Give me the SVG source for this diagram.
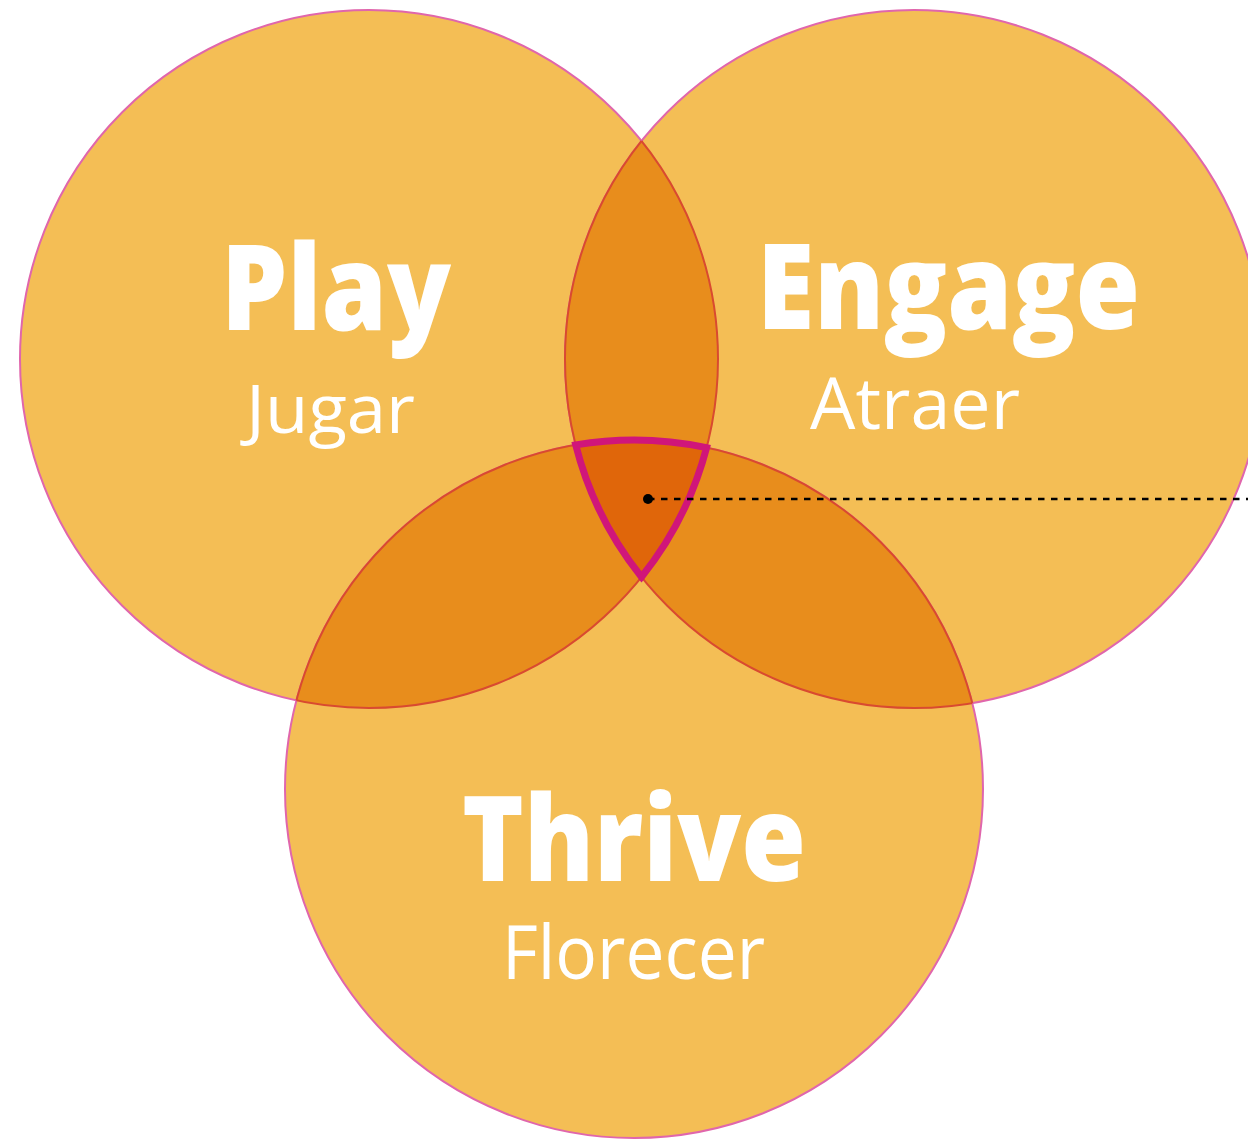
<svg xmlns="http://www.w3.org/2000/svg" width="1248" height="1139" viewBox="0 0 1248 1139">
<style>
.fill{fill:#F4BE55;stroke:#E066AC;stroke-width:2}
.ov{fill:#E88D1C}
.inner{fill:none;stroke:#D94A30;stroke-width:2}
.title{font-family:"Open Sans","Noto Sans",sans-serif;font-weight:800;fill:#FFFFFF}
.sub{font-family:"Open Sans","Noto Sans",sans-serif;font-weight:400;fill:#FFFFFF}
</style>
<defs>
<clipPath id="k1"><circle cx="369" cy="359" r="349"/></clipPath>
<clipPath id="k2"><circle cx="914" cy="359" r="349"/></clipPath>
<clipPath id="k23"><circle cx="914" cy="359" r="349"/><circle cx="634" cy="789" r="349"/></clipPath>
<clipPath id="k13"><circle cx="369" cy="359" r="349"/><circle cx="634" cy="789" r="349"/></clipPath>
<clipPath id="k12"><circle cx="369" cy="359" r="349"/><circle cx="914" cy="359" r="349"/></clipPath>
</defs>
<rect width="1248" height="1139" fill="#FFFFFF"/>
<g id="play">
<circle class="fill" cx="369" cy="359" r="349"/>
</g>
<g id="engage">
<circle class="fill" cx="914" cy="359" r="349"/>
</g>
<g id="thrive">
<circle class="fill" cx="634" cy="789" r="349"/>
</g>
<g id="overlaps">
<circle class="ov" cx="914" cy="359" r="349" clip-path="url(#k1)"/>
<circle class="ov" cx="634" cy="789" r="349" clip-path="url(#k1)"/>
<circle class="ov" cx="634" cy="789" r="349" clip-path="url(#k2)"/>
<circle class="inner" cx="369" cy="359" r="349" clip-path="url(#k23)"/>
<circle class="inner" cx="914" cy="359" r="349" clip-path="url(#k13)"/>
<circle class="inner" cx="634" cy="789" r="349" clip-path="url(#k12)"/>
</g>
<g id="center">
<path d="M575.7 444.9 A349 349 0 0 1 706.6 447.6 A349 349 0 0 1 641.5 577 A349 349 0 0 1 575.7 444.9 Z" fill="#E0660A" stroke="#D0167A" stroke-width="7" stroke-linejoin="miter" stroke-miterlimit="10"/>
</g>
<g id="labels">
<text class="title" x="221" y="330" font-size="119" textLength="230" lengthAdjust="spacingAndGlyphs">Play</text>
<text class="sub" x="246" y="433" font-size="68" textLength="169" lengthAdjust="spacingAndGlyphs">Jugar</text>
<text class="title" x="757" y="329" font-size="119" textLength="383" lengthAdjust="spacingAndGlyphs">Engage</text>
<text class="sub" x="810" y="429" font-size="71" textLength="210" lengthAdjust="spacingAndGlyphs">Atraer</text>
<text class="title" x="462" y="881" font-size="119" textLength="344" lengthAdjust="spacingAndGlyphs">Thrive</text>
<text class="sub" x="502" y="979" font-size="75" textLength="263" lengthAdjust="spacingAndGlyphs">Florecer</text>
</g>
<g id="connectors">
<line x1="648" y1="499" x2="1248" y2="499" stroke="#000000" stroke-width="2.5" stroke-dasharray="6.5 6.5"/>
<circle cx="648" cy="499" r="5" fill="#000000"/>
</g>
</svg>
